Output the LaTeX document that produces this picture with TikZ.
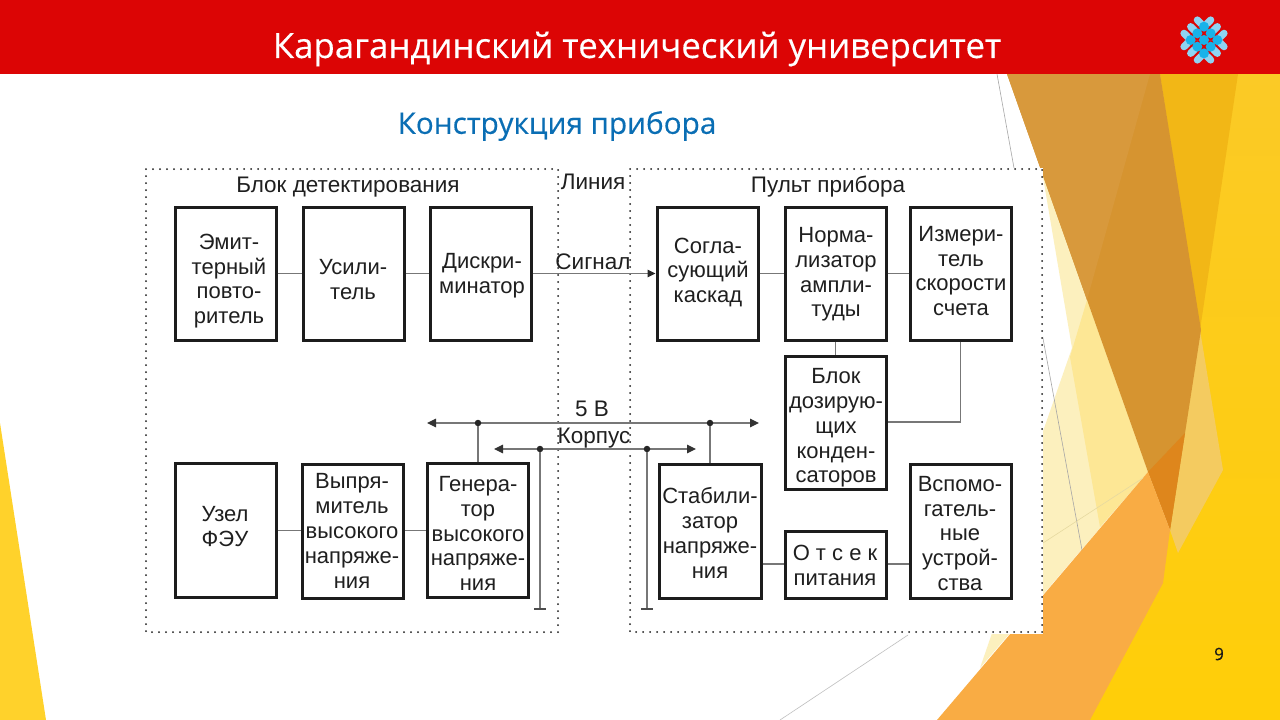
\documentclass[tikz,border=0pt]{standalone}
\usepackage{fontspec}
\setmainfont{Liberation Sans}
\newfontfamily\headfont[FakeBold=0.35]{Open Sans}
\usetikzlibrary{arrows.meta}
\definecolor{hdred}{HTML}{DC0505}
\definecolor{titleblue}{HTML}{0A6EB4}
\definecolor{wiregray}{HTML}{777777}
\definecolor{boxline}{HTML}{1C1C1C}
\definecolor{petalblue}{HTML}{8FD3F2}
\definecolor{corecyan}{HTML}{18B2EA}
\definecolor{sideyellow}{HTML}{FFD22B}
\definecolor{basetop}{HTML}{FBCA26}
\definecolor{basebot}{HTML}{FFCE08}
\definecolor{cream}{HTML}{FCF0BE}
\definecolor{paleyellow}{HTML}{FDE795}
\definecolor{sand}{HTML}{F4CB60}
\definecolor{golden}{HTML}{F2B716}
\definecolor{facetbrown}{HTML}{D69430}
\definecolor{lightbrown}{HTML}{D8993C}
\definecolor{darkorange}{HTML}{DE861C}
\definecolor{orangefacet}{HTML}{F9AC44}
\definecolor{tanline}{HTML}{E6D9A0}
\tikzset{
  poly/.style={fill=#1,draw=none},
  thinbg/.style={draw=#1,line width=0.6pt},
  framebox/.style={draw=boxline,line width=3pt,fill=white,inner sep=0pt},
  boxtext/.style={inner sep=0pt,align=center,text=black!88,font=\fontsize{22}{24.8}\selectfont},
  plaintext/.style={inner sep=0pt,text=black!88,font=\fontsize{22.5}{24}\selectfont},
  zone/.style={draw=black!90,line width=2pt,line cap=round,dash pattern=on 0pt off 7pt},
  wire/.style={draw=wiregray,line width=1.1pt},
  bus/.style={draw=wiregray,line width=1.1pt,{Triangle[length=9pt,width=8.5pt,color=black!80]}-{Triangle[length=9pt,width=8.5pt,color=black!80]}},
  signal/.style={draw=wiregray,line width=1.1pt,-{Triangle[length=8pt,width=7.5pt,color=black!85]}},
  joint/.style={circle,fill=black!85,inner sep=0pt,minimum size=6.5pt},
  earthbar/.style={draw=black!70,line width=1.3pt},
  petal/.style={draw=petalblue,line width=7.2pt,line cap=round},
}
% name, x1, y1, x2, y2, text centre x, text centre y, text
\newcommand\bx[8]{%
  \node[framebox,minimum width=#4pt-#2pt,minimum height=#5pt-#3pt] (#1) at ({(#2+#4)/2},{(#3+#5)/2}) {};
  \node[boxtext] (#1-t) at (#6,#7) {#8};
}
\begin{document}
\begin{tikzpicture}[x=1pt,y=-1pt]
\useasboundingbox (0,0) rectangle (1280,720);
\fill[white] (0,0) rectangle (1280,720);
% backdrop facets
\fill[poly=sideyellow] (0,423) -- (46,720) -- (0,720) -- cycle;
\shade[bottom color=basebot,top color=basetop,draw=none] (1160,74) -- (1280,74) -- (1280,720) -- (1088,720) -- (1170,530) -- cycle;
\fill[poly=cream] (1035,130) -- (1072,348) -- (1040,440) -- (1040,600) -- (1000,610) -- (980,668) -- (1148,472) -- cycle;
\fill[poly=paleyellow] (1087,300) -- (1148,472) -- (1100,527) -- (1070,357) -- cycle;
\fill[poly=sand] (1200,330) -- (1223,470) -- (1178,553) -- (1170,530) -- cycle;
\fill[poly=golden] (1160,74) -- (1238,74) -- (1200,330) -- cycle;
\fill[poly=facetbrown] (1007,74) -- (1160,74) -- (1201,330) -- (1170,530) -- (1148,472) -- cycle;
\fill[poly=lightbrown] (1007,74) -- (1150,74) -- (1087,300) -- cycle;
\fill[poly=darkorange] (1185,433) -- (1148,472) -- (1170,530) -- cycle;
\fill[poly=orangefacet] (1148,472) -- (1170,530) -- (1163,583) -- (1090,720) -- (937,720) -- cycle;
\draw[thinbg=black!35] (997,74) -- (1014,168);
\draw[thinbg=black!35] (1042,333) -- (1082,550);
\draw[thinbg=tanline] (1043,543) -- (1143,478);
\draw[thinbg=black!25] (908,635) -- (780,720);
% header
\fill[hdred] (0,0) rectangle (1280,74);
\node[inner sep=0pt,text=white,font=\headfont\fontsize{34.8}{38}\selectfont] (title) at (637,49) {Карагандинский технический университет};
% emblem
\begin{scope}[shift={(1204,40)},x={(6.67pt,-6.67pt)},y={(6.67pt,6.67pt)}]
  \fill[petalblue] (-1.5,-1.5) rectangle (1.5,1.5);
  \foreach \r in {-1,0,1}{
    \draw[petal] (-2,\r) -- (-1.45,\r);
    \draw[petal] (1.45,\r) -- (2,\r);
    \draw[petal] (\r,-2) -- (\r,-1.45);
    \draw[petal] (\r,1.45) -- (\r,2);
  }
  \foreach \p in {-1,0,1}\foreach \q in {-1,0,1}{
    \fill[corecyan] (\p,\q) circle[radius=5pt];
  }
\end{scope}
\node[inner sep=0pt,text=titleblue,font=\headfont\fontsize{29.7}{32}\selectfont] (subtitle) at (557,126) {Конструкция прибора};
% scanned panel
\fill[white] (140,168) rectangle (1043,634);
\draw[zone] (146,169) rectangle (558,632);
\draw[zone] (630,169) rectangle (1042,632);
% headings
\node[plaintext] (h1) at (348,187) {Блок детектирования};
\node[plaintext] (h2) at (828,187) {Пульт прибора};
\node[plaintext] (h3) at (593,182) {Линия};
\node[plaintext] (h4) at (593,262) {Сигнал};
\node[plaintext] (h5) at (592,409) {5 В};
\node[plaintext] (h6) at (594,438) {Корпус};
% blocks
\bx{emit}{175}{207}{276}{340}{229}{281}{Эмит-\\терный\\повто-\\ритель}
\bx{amp}{303}{207}{404}{340}{353}{279.5}{Усили-\\тель}
\bx{disc}{430}{207}{531}{340}{482}{276}{Дискри-\\минатор}
\bx{match}{657}{207}{758}{340}{708}{272.5}{Согла-\\сующий\\каскад}
\bx{norm}{785}{207}{886}{340}{836}{274.5}{Норма-\\лизатор\\ампли-\\туды}
\bx{meter}{910}{207}{1011}{340}{961}{271}{Измери-\\тель\\скорости\\счета}
\bx{caps}{785}{356}{886}{489}{836}{428}{Блок\\дозирую-\\щих\\конден-\\саторов}
\bx{pmt}{175}{463}{276}{597}{225}{526.5}{Узел\\ФЭУ}
\bx{rect}{302}{464}{403}{598}{352}{531}{Выпря-\\митель\\высокого\\напряже-\\ния}
\bx{gen}{427}{463}{528}{597}{478}{533.5}{Генера-\\тор\\высокого\\напряже-\\ния}
\bx{stab}{659}{464}{761}{598}{710}{533}{Стабили-\\затор\\напряже-\\ния}
\bx{psu}{785}{531}{886}{598}{835}{565.5}{О т с е к\\питания}
\bx{aux}{910}{464}{1011}{598}{960}{533.5}{Вспомо-\\гатель-\\ные\\устрой-\\ства}
% connectors
\draw[wire] (emit.east) -- (amp.west);
\draw[wire] (amp.east) -- (disc.west);
\draw[signal] (disc.east) -- (match.west);
\draw[wire] (match.east) -- (norm.west);
\draw[wire] (norm.east) -- (meter.west);
\draw[wire] (norm.south) -- (caps.north);
\draw[wire] (meter.south) |- (caps.east |- 0,422);
\draw[wire] (pmt.east |- 0,530.5) -- (rect.west |- 0,530.5);
\draw[wire] (rect.east |- 0,530.5) -- (gen.west |- 0,530.5);
\draw[wire] (stab.east |- 0,564) -- (psu.west |- 0,564);
\draw[wire] (psu.east |- 0,564) -- (aux.west |- 0,564);
% supply rails
\coordinate (vL) at (427,423);
\coordinate (vR) at (759,423);
\coordinate (gL) at (494,449);
\coordinate (gR) at (696,449);
\draw[bus] (vL) -- (vR);
\draw[bus] (gL) -- (gR);
\node[joint] (j1) at (478,423) {};
\node[joint] (j2) at (710,423) {};
\node[joint] (j3) at (540,449) {};
\node[joint] (j4) at (647,449) {};
\draw[wire] (j1) -- (j1 |- gen.north);
\draw[wire] (j2) -- (j2 |- stab.north);
\coordinate (e1) at (540,609);
\coordinate (e2) at (647,609);
\draw[wire] (j3) -- (e1);
\draw[wire] (j4) -- (e2);
\draw[earthbar] ([xshift=-6pt]e1) -- ([xshift=6pt]e1);
\draw[earthbar] ([xshift=-6pt]e2) -- ([xshift=6pt]e2);
% page number
\node[inner sep=0pt,text=black!90,font=\headfont\fontsize{17}{19}\selectfont] (page) at (1219,654) {9};
\end{tikzpicture}
\end{document}
